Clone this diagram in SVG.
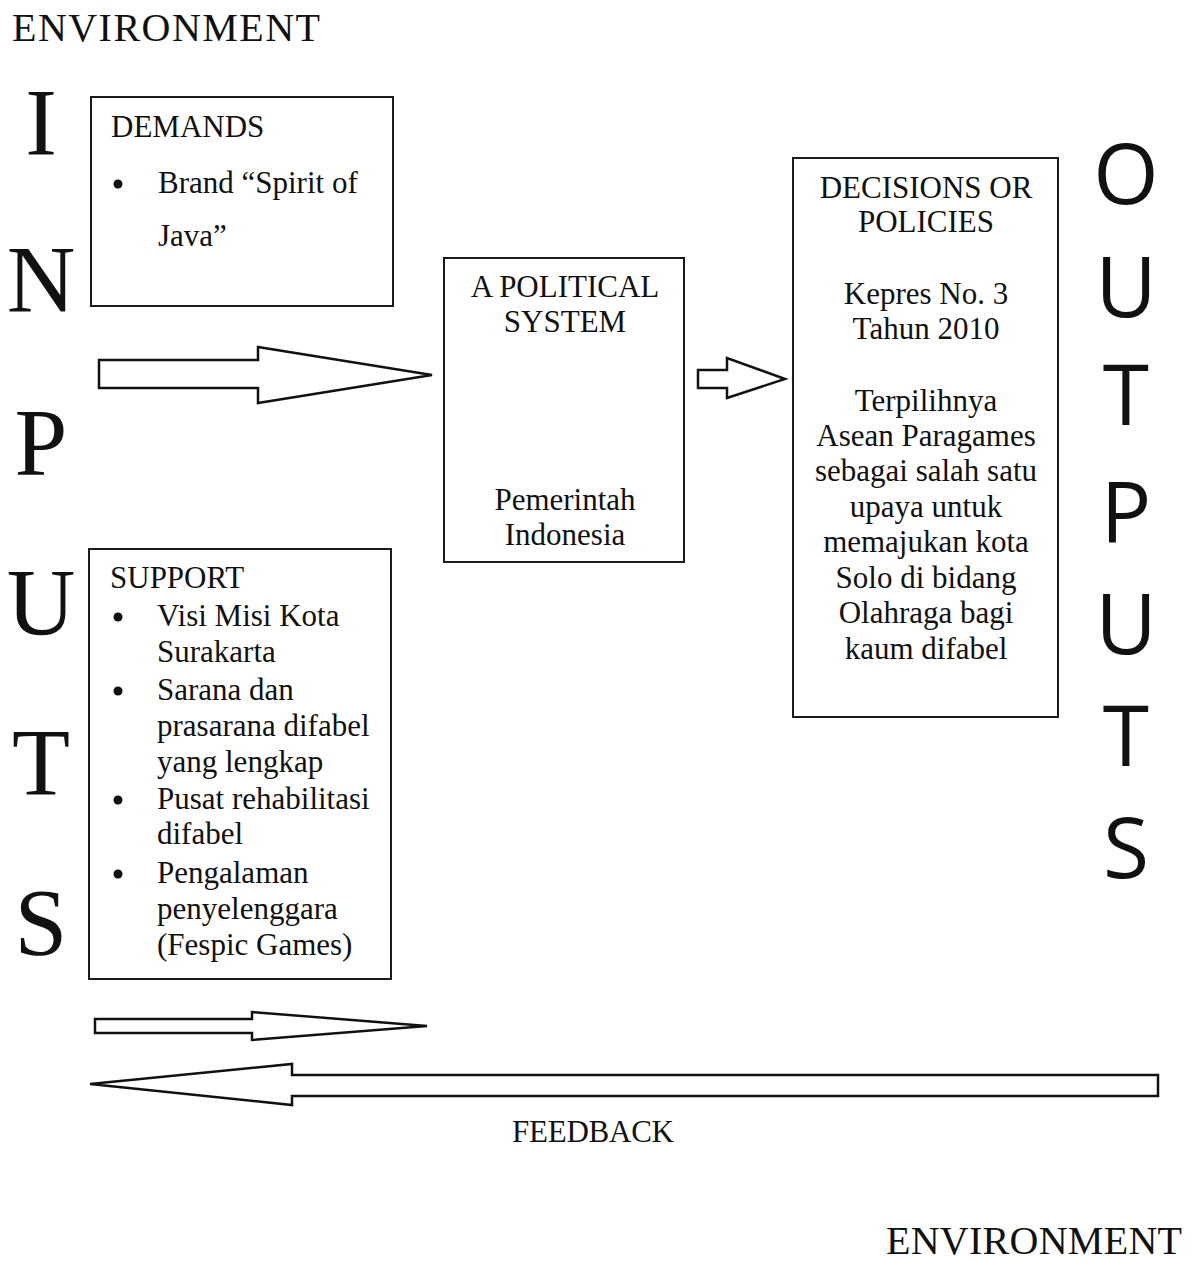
<svg xmlns="http://www.w3.org/2000/svg" width="1198" height="1262" viewBox="0 0 1198 1262">
<style>
.box{fill:#fff;stroke:#1a1a1a;stroke-width:2}
.arr{fill:#fff;stroke:#111;stroke-width:2.5;stroke-linejoin:miter}
.t{font-family:"Liberation Serif","Times New Roman",serif;font-size:31px;fill:#111}
.c{text-anchor:middle}
.big{font-family:"Liberation Serif","Times New Roman",serif;font-size:95px;fill:#111;text-anchor:middle}
.bigs{font-family:"Open Sans","Liberation Sans",sans-serif;font-size:84px;fill:#111;text-anchor:middle}
.env{font-family:"Liberation Serif","Times New Roman",serif;font-size:40px;fill:#111}
</style>
<rect width="1198" height="1262" fill="#fff"/>
<text class="env" x="12" y="41" textLength="308">ENVIRONMENT</text>
<text class="env" x="886" y="1254" textLength="296">ENVIRONMENT</text>
<g id="inputs-letters">
<text class="big" x="41" y="155">I</text>
<text class="big" x="41" y="312">N</text>
<text class="big" x="41" y="475">P</text>
<text class="big" x="41" y="635">U</text>
<text class="big" x="41" y="795">T</text>
<text class="big" x="41" y="955">S</text>
</g>
<g id="outputs-letters">
<text class="bigs" x="1126" y="204">O</text>
<text class="bigs" x="1126" y="317">U</text>
<text class="bigs" x="1126" y="425">T</text>
<text class="bigs" x="1126" y="543">P</text>
<text class="bigs" x="1126" y="654">U</text>
<text class="bigs" x="1126" y="766">T</text>
<text class="bigs" x="1126" y="878">S</text>
</g>
<g id="demands">
<rect class="box" x="91" y="97" width="302" height="209"/>
<text class="t" x="111" y="137">DEMANDS</text>
<circle cx="118" cy="184" r="4.5" fill="#111"/>
<text class="t" x="158" y="193">Brand “Spirit of</text>
<text class="t" x="158" y="246">Java”</text>
</g>
<g id="political-system">
<rect class="box" x="444" y="258" width="240" height="304"/>
<text class="t c" x="565" y="297">A POLITICAL</text>
<text class="t c" x="565" y="332">SYSTEM</text>
<text class="t c" x="565" y="510">Pemerintah</text>
<text class="t c" x="565" y="545">Indonesia</text>
</g>
<g id="decisions">
<rect class="box" x="793" y="158" width="265" height="559"/>
<text class="t c" x="926" y="198">DECISIONS OR</text>
<text class="t c" x="926" y="232">POLICIES</text>
<text class="t c" x="926" y="304">Kepres No. 3</text>
<text class="t c" x="926" y="339">Tahun 2010</text>
<text class="t c" x="926" y="411">Terpilihnya</text>
<text class="t c" x="926" y="446">Asean Paragames</text>
<text class="t c" x="926" y="481">sebagai salah satu</text>
<text class="t c" x="926" y="517">upaya untuk</text>
<text class="t c" x="926" y="552">memajukan kota</text>
<text class="t c" x="926" y="588">Solo di bidang</text>
<text class="t c" x="926" y="623">Olahraga bagi</text>
<text class="t c" x="926" y="659">kaum difabel</text>
</g>
<g id="support">
<rect class="box" x="89" y="549" width="302" height="430"/>
<text class="t" x="110" y="588">SUPPORT</text>
<circle cx="118" cy="617" r="4.5" fill="#111"/>
<text class="t" x="157" y="626">Visi Misi Kota</text>
<text class="t" x="157" y="662">Surakarta</text>
<circle cx="118" cy="691" r="4.5" fill="#111"/>
<text class="t" x="157" y="700">Sarana dan</text>
<text class="t" x="157" y="736">prasarana difabel</text>
<text class="t" x="157" y="772">yang lengkap</text>
<circle cx="118" cy="800" r="4.5" fill="#111"/>
<text class="t" x="157" y="809">Pusat rehabilitasi</text>
<text class="t" x="157" y="844">difabel</text>
<circle cx="118" cy="874" r="4.5" fill="#111"/>
<text class="t" x="157" y="883">Pengalaman</text>
<text class="t" x="157" y="919">penyelenggara</text>
<text class="t" x="157" y="955">(Fespic Games)</text>
</g>
<g id="connectors">
<polygon class="arr" points="99,360 258,360 258,347 432,375 258,403 258,388 99,388"/>
<polygon class="arr" points="698,370 727,370 727,358 785,379 727,398 727,388 698,388"/>
<polygon class="arr" points="95,1019 252,1019 252,1012 427,1026 252,1040 252,1033 95,1033"/>
<polygon class="arr" points="1158,1075 292,1075 292,1064 90,1084 292,1105 292,1096 1158,1096"/>
</g>
<text class="t" x="512" y="1142" textLength="162">FEEDBACK</text>
</svg>
